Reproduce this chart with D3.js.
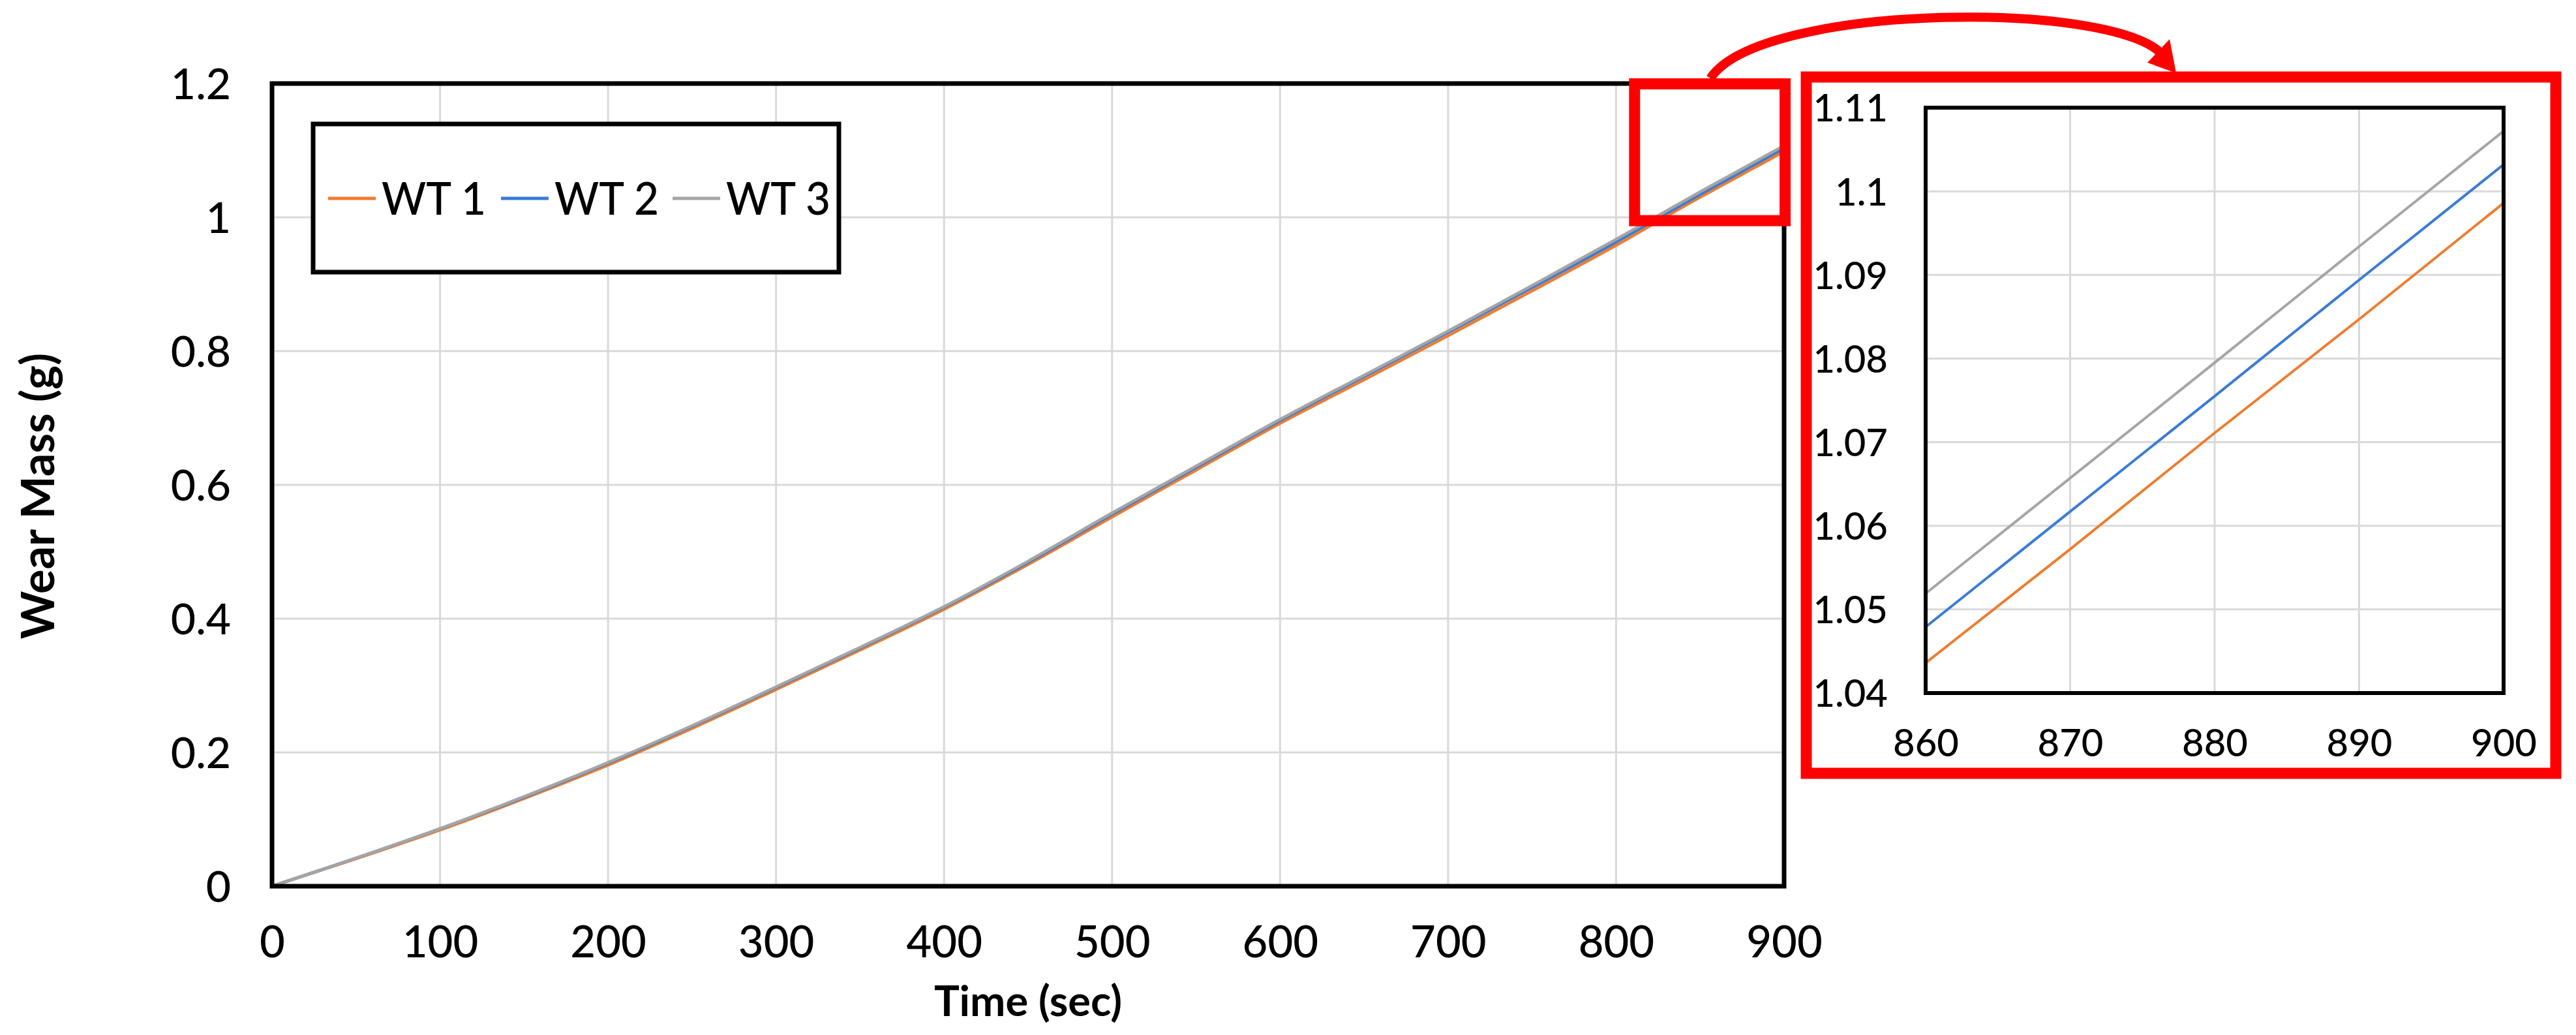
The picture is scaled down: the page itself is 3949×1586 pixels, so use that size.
<!DOCTYPE html>
<html><head><meta charset="utf-8">
<script src="https://cdn.jsdelivr.net/npm/d3@7"></script>
<style>
html,body{margin:0;padding:0;background:#fff;}
text{font-family:Lato,"Noto Sans",sans-serif;fill:#000;}
</style></head>
<body><svg id="c" width="3949" height="1586"></svg>
<script>
const time = [0,50,100,150,200,250,300,350,400,450,500,550,600,650,700,750,800,850,860,870,880,890,900];
const wt1 = [0,0.041,0.084,0.131,0.181,0.236,0.294,0.353,0.414,0.481,0.552,0.622,0.692,0.757,0.823,0.890,0.958,1.030,1.0436,1.0572,1.0711,1.0847,1.0986];
const wt2 = [0,0.042,0.086,0.133,0.184,0.239,0.297,0.356,0.417,0.484,0.556,0.626,0.696,0.762,0.828,0.895,0.963,1.034,1.0479,1.0617,1.0755,1.0894,1.1032];
const wt3 = [0,0.042,0.086,0.134,0.185,0.240,0.298,0.357,0.418,0.486,0.558,0.628,0.698,0.764,0.830,0.898,0.967,1.038,1.0519,1.0657,1.0795,1.0934,1.1072];
const seriesNames = ["WT 1","WT 2","WT 3"];
const seriesColors = ["#ED7D31","#3A7BD5","#A5A5A5"];
const xTicks = [0,100,200,300,400,500,600,700,800,900];
const yTicks = [0,0.2,0.4,0.6,0.8,1,1.2];
const insetXTicks = [860,870,880,890,900];
const insetYTicks = [1.04,1.05,1.06,1.07,1.08,1.09,1.1,1.11];
const xTitle = "Time (sec)";
const yTitle = "Wear Mass (g)";

const svg = d3.select("#c");
const series = [wt1,wt2,wt3].map((v,i)=>({name:seriesNames[i],color:seriesColors[i],pts:time.map((t,j)=>[t,v[j]])}));
const fmt = d => String(+d.toFixed(2));

// ---------- main chart ----------
const M = {l:417, r:2735, t:128, b:1358};
const x = d3.scaleLinear().domain([0,900]).range([M.l,M.r]);
const y = d3.scaleLinear().domain([0,1.2]).range([M.b,M.t]);

const g = svg.append("g");
g.append("g").selectAll("line").data(xTicks.slice(1,-1)).join("line")
  .attr("x1",d=>x(d)).attr("x2",d=>x(d)).attr("y1",M.t).attr("y2",M.b)
  .attr("stroke","#d9d9d9").attr("stroke-width",3);
g.append("g").selectAll("line").data(yTicks.slice(1,-1)).join("line")
  .attr("y1",d=>y(d)).attr("y2",d=>y(d)).attr("x1",M.l).attr("x2",M.r)
  .attr("stroke","#d9d9d9").attr("stroke-width",3);

const xa = g.append("g").attr("transform",`translate(0,${M.b})`)
  .call(d3.axisBottom(x).tickValues(xTicks).tickSize(0).tickPadding(85).tickFormat(fmt));
xa.select(".domain").remove();
xa.selectAll("text").attr("font-size",67).attr("font-family","Lato").attr("font-weight",500).attr("dy","0.36em");
const ya = g.append("g").attr("transform",`translate(${M.l},0)`)
  .call(d3.axisLeft(y).tickValues(yTicks).tickSize(0).tickPadding(63).tickFormat(fmt));
ya.select(".domain").remove();
ya.selectAll("text").attr("font-size",66).attr("font-family","Lato").attr("font-weight",500).attr("dy","0.36em");

const line = d3.line().x(d=>x(d[0])).y(d=>y(d[1])).curve(d3.curveMonotoneX);
g.append("g").selectAll("path").data(series).join("path")
  .attr("d",d=>line(d.pts)).attr("fill","none").attr("stroke",d=>d.color).attr("stroke-width",4.5);

g.append("rect").attr("x",M.l).attr("y",M.t).attr("width",M.r-M.l).attr("height",M.b-M.t)
  .attr("fill","none").attr("stroke","#000").attr("stroke-width",7);

svg.append("text").attr("x",(M.l+M.r)/2).attr("y",1557)
  .attr("text-anchor","middle").attr("font-size",65).attr("font-weight",700).text(xTitle);
svg.append("text").attr("transform",`translate(83,760) rotate(-90)`)
  .attr("text-anchor","middle").attr("font-size",70).attr("font-weight",700).text(yTitle);

// legend
const L = {x:480,y:190,w:806,h:227};
const lg = svg.append("g");
lg.append("rect").attr("x",L.x).attr("y",L.y).attr("width",L.w).attr("height",L.h)
  .attr("fill","#fff").attr("stroke","#000").attr("stroke-width",7);
const legX = [503,768,1031];
series.forEach((s,i)=>{
  lg.append("line").attr("x1",legX[i]).attr("x2",legX[i]+73).attr("y1",304).attr("y2",304)
    .attr("stroke",s.color).attr("stroke-width",5);
  lg.append("text").attr("x",legX[i]+82).attr("y",304).attr("dy","0.36em").attr("font-weight",500)
    .attr("font-size",70).attr("textLength",160).attr("lengthAdjust","spacingAndGlyphs").text(s.name);
});

// ---------- highlight rect and arrow ----------
const red = "#FF0000";
svg.append("rect").attr("x",x(811)).attr("y",y(1.1995)).attr("width",x(900.6)-x(811)).attr("height",y(0.995)-y(1.1995))
  .attr("fill","none").attr("stroke",red).attr("stroke-width",17);
svg.append("path").attr("d","M2622,120 C2700,2 3260,0 3318,88")
  .attr("fill","none").attr("stroke",red).attr("stroke-width",14);
svg.append("path").attr("d","M3336,112 L3292,96 L3326,60 Z").attr("fill",red);

// ---------- inset ----------
svg.append("rect").attr("x",2769).attr("y",118).attr("width",3918-2769).attr("height",1185-118)
  .attr("fill","#fff").attr("stroke",red).attr("stroke-width",17);
const I = {l:2952, r:3838, t:165, b:1062};
const xi = d3.scaleLinear().domain([860,900]).range([I.l,I.r]);
const yi = d3.scaleLinear().domain([1.04,1.11]).range([I.b,I.t]);
const gi = svg.append("g");
gi.append("g").selectAll("line").data(insetXTicks.slice(1,-1)).join("line")
  .attr("x1",d=>xi(d)).attr("x2",d=>xi(d)).attr("y1",I.t).attr("y2",I.b)
  .attr("stroke","#d9d9d9").attr("stroke-width",3);
gi.append("g").selectAll("line").data(insetYTicks.slice(1,-1)).join("line")
  .attr("y1",d=>yi(d)).attr("y2",d=>yi(d)).attr("x1",I.l).attr("x2",I.r)
  .attr("stroke","#d9d9d9").attr("stroke-width",3);
const xia = gi.append("g").attr("transform",`translate(0,${I.b})`)
  .call(d3.axisBottom(xi).tickValues(insetXTicks).tickSize(0).tickPadding(76).tickFormat(fmt));
xia.select(".domain").remove();
xia.selectAll("text").attr("font-size",58).attr("font-family","Lato").attr("font-weight",500).attr("dy","0.36em");
const yia = gi.append("g").attr("transform",`translate(${I.l},0)`)
  .call(d3.axisLeft(yi).tickValues(insetYTicks).tickSize(0).tickPadding(58).tickFormat(fmt));
yia.select(".domain").remove();
yia.selectAll("text").attr("font-size",58).attr("font-family","Lato").attr("font-weight",500).attr("dy","0.36em");
svg.append("clipPath").attr("id","ic").append("rect").attr("x",I.l).attr("y",I.t).attr("width",I.r-I.l).attr("height",I.b-I.t);
const linei = d3.line().x(d=>xi(d[0])).y(d=>yi(d[1]));
gi.append("g").attr("clip-path","url(#ic)").selectAll("path").data(series).join("path")
  .attr("d",d=>linei(d.pts.filter(p=>p[0]>=860))).attr("fill","none").attr("stroke",d=>d.color).attr("stroke-width",4);
gi.append("rect").attr("x",I.l).attr("y",I.t).attr("width",I.r-I.l).attr("height",I.b-I.t)
  .attr("fill","none").attr("stroke","#000").attr("stroke-width",6);
</script></body></html>
